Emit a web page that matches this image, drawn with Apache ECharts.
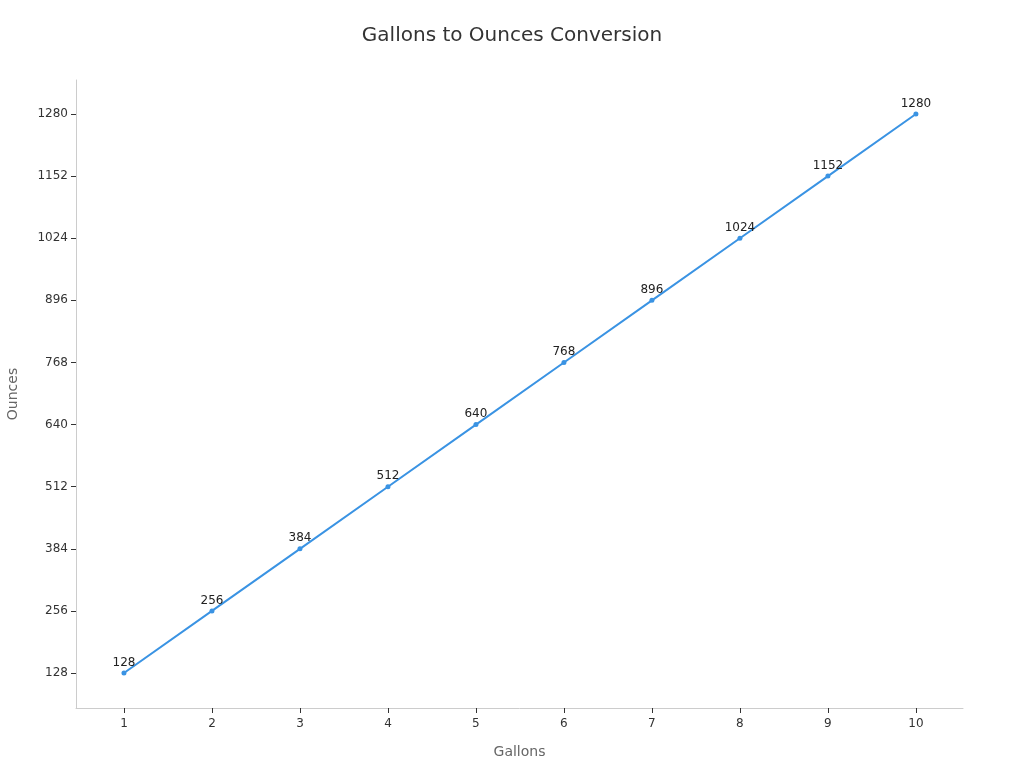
<!DOCTYPE html>
<html><head><meta charset="utf-8">
<script src="https://cdn.jsdelivr.net/npm/echarts@6/dist/echarts.min.js"></script>
<style>html,body{margin:0;padding:0;background:#fff}#c{width:1024px;height:768px}</style>
</head><body><div id="c"></div>
<script>
const gallons = [1,2,3,4,5,6,7,8,9,10];
const ounces = [128,256,384,512,640,768,896,1024,1152,1280];
const yTicks = [128,256,384,512,640,768,896,1024,1152,1280];
const xTicks = [1,2,3,4,5,6,7,8,9,10];
const font = 'DejaVu Sans';
const chart = echarts.init(document.getElementById('c'));
chart.setOption({
  animation:false,
  textStyle:{fontFamily:font},
  title:{text:'Gallons to Ounces Conversion',left:'center',top:21,textStyle:{fontFamily:font,fontSize:20,fontWeight:'normal',color:'#333'}},
  grid:{left:76,right:61,top:80,bottom:60,containLabel:false,outerBoundsMode:'none'},
  xAxis:{type:'value',min:0.455,max:10.535,name:'Gallons',nameLocation:'middle',nameGap:37,
    nameTextStyle:{fontFamily:font,fontSize:14,color:'#666'},
    axisLine:{show:true,lineStyle:{color:'#ccc'}},
    axisTick:{show:true,customValues:xTicks,length:5,lineStyle:{color:'#333'}},
    axisLabel:{customValues:xTicks,fontFamily:font,fontSize:12,color:'#333',margin:10,formatter:v=>String(v)},
    splitLine:{show:false}},
  yAxis:{type:'value',min:56,max:1350,name:'Ounces',nameLocation:'middle',nameGap:56,
    nameTextStyle:{fontFamily:font,fontSize:14,color:'#666'},
    axisLine:{show:true,lineStyle:{color:'#ccc'}},
    axisTick:{show:true,customValues:yTicks,length:5,lineStyle:{color:'#333'}},
    axisLabel:{customValues:yTicks,fontFamily:font,fontSize:12,color:'#333',margin:8,formatter:v=>String(v)},
    splitLine:{show:false}},
  series:[{type:'line',data:gallons.map((g,i)=>[g,ounces[i]]),
    symbol:'circle',symbolSize:5,
    lineStyle:{color:'#3a93e3',width:2},itemStyle:{color:'#3a93e3'},
    label:{show:true,position:'top',fontFamily:font,fontSize:12,color:'#222',distance:2,formatter:p=>String(p.value[1])}}]
});
</script></body></html>
